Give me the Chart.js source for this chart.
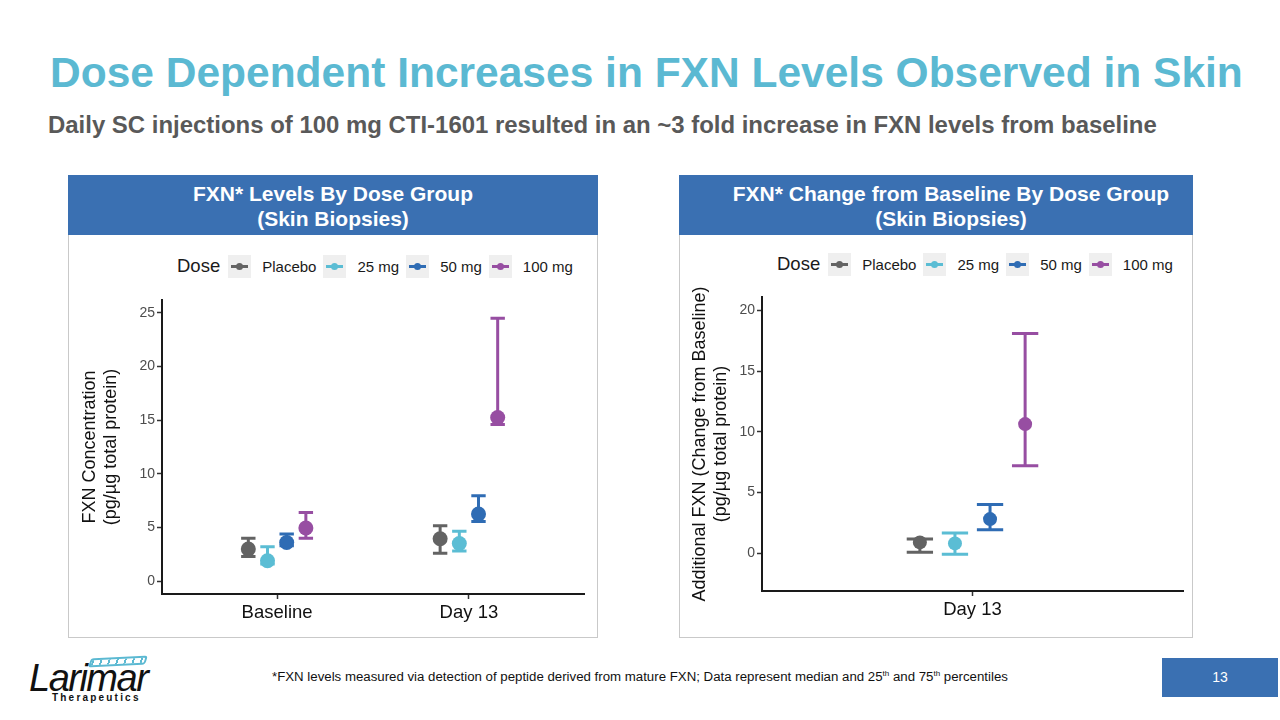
<!DOCTYPE html>
<html>
<head>
<meta charset="utf-8">
<script src="https://cdn.jsdelivr.net/npm/chart.js@4.4.1/dist/chart.umd.min.js"></script>
<style>
  html, body { margin:0; padding:0; background:#fff; }
  body { width:1280px; height:720px; position:relative; overflow:hidden; font-family:"Liberation Sans", Arial, Helvetica, sans-serif; }
  .abs { position:absolute; }
  .fit { white-space:nowrap; display:inline-block; }
  #title { left:50px; top:46px; color:#5bb9d2; font-weight:bold; font-size:42px; line-height:54px; }
  #subtitle { left:48px; top:110px; color:#595959; font-weight:bold; font-size:22px; line-height:30px; }
  .panel { border:1px solid #c9c9c9; box-sizing:border-box; }
  .header { background:#3a70b2; color:#fff; font-weight:bold; font-size:21px; line-height:25px; text-align:center; box-sizing:border-box; padding-top:6px; }
  .legend { height:24px; display:flex; align-items:center; color:#1a1a1a; }
  .legend .ttl { font-size:18.5px; margin-right:8px; }
  .legend .key { width:23px; height:23px; background:#efefef; position:relative; margin-right:11px; }
  .legend .key .ln { position:absolute; left:3px; right:3px; top:10px; height:3px; }
  .legend .key .dt { position:absolute; left:8px; top:8px; width:7px; height:7px; border-radius:50%; }
  .legend .lab { font-size:15px; margin-right:7px; }
  #foot { left:272px; top:668px; font-size:13px; color:#111; line-height:18px; }
  #foot sup { font-size:8px; vertical-align:5px; line-height:0; }
  #pg { left:1162px; top:658px; width:116px; height:39px; background:#3a70b2; color:#fff; font-size:14px; line-height:39px; text-align:center; }
</style>
</head>
<body>
<div id="title" class="abs fit">Dose Dependent Increases in FXN Levels Observed in Skin</div>
<div id="subtitle" class="abs fit">Daily SC injections of 100 mg CTI-1601 resulted in an ~3 fold increase in FXN levels from baseline</div>

<div class="abs panel" style="left:68px;top:175px;width:530px;height:463px;"></div>
<div class="abs header" style="left:68px;top:175px;width:530px;height:60px;">FXN* Levels By Dose Group<br>(Skin Biopsies)</div>
<div class="abs panel" style="left:679px;top:175px;width:514px;height:463px;"></div>
<div class="abs header" style="left:679px;top:175px;width:514px;height:60px;padding-left:30px;">FXN* Change from Baseline By Dose Group<br>(Skin Biopsies)</div>

<div id="legendL" class="abs legend" style="left:177px;top:254px;"></div>
<div id="legendR" class="abs legend" style="left:777px;top:252px;"></div>

<canvas id="cL" class="abs" width="528" height="401" style="left:69px;top:236px;"></canvas>
<canvas id="cR" class="abs" width="512" height="401" style="left:680px;top:236px;"></canvas>

<div id="foot" class="abs fit">*FXN levels measured via detection of peptide derived from mature FXN; Data represent median and 25<sup>th</sup> and 75<sup>th</sup> percentiles</div>
<div id="pg" class="abs">13</div>

<div class="abs" style="left:90px;top:657px;width:52px;height:5px;border:2px solid #5bb9d2;border-radius:3px;background:repeating-linear-gradient(90deg,#5bb9d2 0 2px,#fff 2px 8px);transform:skewX(-20deg) rotate(-3deg);"></div>
<div class="abs" style="left:29px;top:658px;font-size:38px;font-style:italic;color:#111;letter-spacing:-1.5px;line-height:40px;font-family:'Liberation Sans',Arial,sans-serif;">Larimar</div>
<div class="abs" style="left:52px;top:692px;font-size:10px;font-weight:bold;color:#111;letter-spacing:2.2px;line-height:12px;">Therapeutics</div>

<script>
// ---------- data ----------
const doses = ['Placebo', '25 mg', '50 mg', '100 mg'];
const doseColors = ['#636363', '#5bbdd4', '#2f6cb4', '#974ea2'];

const levelCategories = ['Baseline', 'Day 13'];
const levelTicks = [0, 5, 10, 15, 20, 25];
// median, 25th, 75th percentile per dose: [Baseline, Day 13]
const levelMedian = [[3.0, 3.95], [1.9, 3.5], [3.6, 6.25], [4.95, 15.25]];
const levelQ1     = [[2.3, 2.6],  [1.6, 2.8], [3.3, 5.55], [4.0, 14.6]];
const levelQ3     = [[4.0, 5.15], [3.2, 4.65], [4.4, 7.95], [6.4, 24.5]];

const changeCategories = ['Day 13'];
const changeTicks = [0, 5, 10, 15, 20];
const changeMedian = [[0.9], [0.82], [2.82], [10.64]];
const changeQ1     = [[0.08], [-0.08], [1.94], [7.21]];
const changeQ3     = [[1.18], [1.67], [4.03], [18.1]];

// ---------- layout constants ----------
const dodge = [-0.15, -0.05, 0.05, 0.15];
const capHalf = 0.0375;

function buildLegend(id) {
  const el = document.getElementById(id);
  let h = '<span class="ttl">Dose</span>';
  doses.forEach((d, i) => {
    h += '<span class="key"><span class="ln" style="background:' + doseColors[i] + '"></span><span class="dt" style="background:' + doseColors[i] + '"></span></span><span class="lab">' + d + '</span>';
  });
  el.innerHTML = h;
}
buildLegend('legendL');
buildLegend('legendR');

const errorBars = {
  id: 'errorBars',
  beforeDatasetsDraw(chart) {
    const { ctx } = chart;
    const xs = chart.scales.x, ys = chart.scales.y;
    chart.data.datasets.forEach(ds => {
      ds.data.forEach(p => {
        const xc = xs.getPixelForValue(p.x);
        const xl = xs.getPixelForValue(p.x - capHalf);
        const xr = xs.getPixelForValue(p.x + capHalf);
        const y1 = ys.getPixelForValue(p.q1);
        const y3 = ys.getPixelForValue(p.q3);
        ctx.save();
        ctx.strokeStyle = ds.borderColor;
        ctx.lineWidth = 3;
        ctx.beginPath();
        ctx.moveTo(xc, y1); ctx.lineTo(xc, y3);
        ctx.moveTo(xl, y1); ctx.lineTo(xr, y1);
        ctx.moveTo(xl, y3); ctx.lineTo(xr, y3);
        ctx.stroke();
        ctx.restore();
      });
    });
  }
};

function makeChart(id, cats, med, q1, q3, yTicks, yMin, yMax, yTitle, opts) {
  const datasets = doses.map((d, i) => ({
    label: d,
    data: cats.map((c, j) => ({ x: j + 1 + dodge[i], y: med[i][j], q1: q1[i][j], q3: q3[i][j] })),
    backgroundColor: doseColors[i],
    borderColor: doseColors[i],
    pointRadius: opts.r,
    pointBorderWidth: 0,
    showLine: false
  }));
  return new Chart(document.getElementById(id), {
    type: 'scatter',
    data: { datasets },
    plugins: [errorBars],
    options: {
      responsive: false,
      animation: false,
      events: [],
      layout: { padding: { left: 0, top: opts.padTop, right: opts.padRight, bottom: 0 } },
      plugins: { legend: { display: false }, tooltip: { enabled: false } },
      scales: {
        x: {
          type: 'linear',
          min: 0.4, max: cats.length + 0.6,
          afterBuildTicks: s => { s.ticks = cats.map((c, j) => ({ value: j + 1 })); },
          afterFit: s => { s.height = opts.xH; },
          ticks: { callback: (v, idx) => cats[idx], color: '#111', font: { size: 18.5, family: 'Liberation Sans, Arial, sans-serif' }, padding: 3, maxRotation: 0, autoSkip: false },
          grid: { display: true, drawOnChartArea: false, drawTicks: true, tickLength: 5, tickColor: '#333', tickWidth: 1.5 },
          border: { display: true, color: '#1a1a1a', width: 2 }
        },
        y: {
          type: 'linear',
          min: yMin, max: yMax,
          afterBuildTicks: s => { s.ticks = yTicks.map(v => ({ value: v })); },
          afterFit: s => { s.width = opts.yW; },
          ticks: { color: '#4d4d4d', font: { size: 14, family: 'Liberation Sans, Arial, sans-serif' }, padding: 2 },
          grid: { display: true, drawOnChartArea: false, drawTicks: true, tickLength: 5, tickColor: '#333', tickWidth: 1.5 },
          border: { display: true, color: '#1a1a1a', width: 2 },
          title: { display: true, text: yTitle, color: '#111', font: { size: 18, family: 'Liberation Sans, Arial, sans-serif', lineHeight: 1.15 }, padding: { top: opts.titlePad, bottom: 0 } }
        }
      }
    }
  });
}

makeChart('cL', levelCategories, levelMedian, levelQ1, levelQ3, levelTicks, -1.2, 26.2,
  ['FXN Concentration', '(pg/\u00b5g total protein)'],
  { r: 7.5, padTop: 64, padRight: 13, xH: 43, yW: 93, titlePad: 10.6 });
makeChart('cR', changeCategories, changeMedian, changeQ1, changeQ3, changeTicks, -3.1, 21.1,
  ['Additional FXN (Change from Baseline)', '(pg/\u00b5g total protein)'],
  { r: 7, padTop: 61, padRight: 9, xH: 46, yW: 82, titlePad: 9.6 });

function fit(id, target) {
  const el = document.getElementById(id);
  const fs = parseFloat(getComputedStyle(el).fontSize);
  const w = el.getBoundingClientRect().width;
  el.style.fontSize = (fs * target / w).toFixed(2) + 'px';
}
fit('title', 1193);
fit('subtitle', 1109);
fit('foot', 736);
</script>
</body>
</html>
